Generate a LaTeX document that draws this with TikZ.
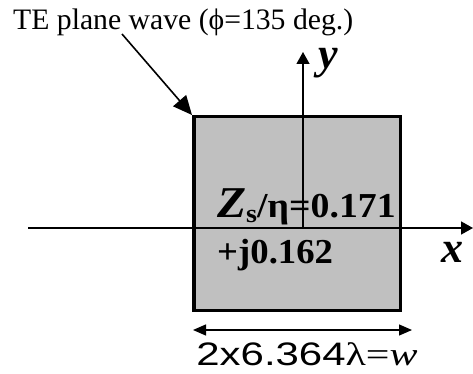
\documentclass[tikz,border=0pt]{standalone}
\usepackage{fontspec}
\setmainfont{Liberation Serif}
\setsansfont{Liberation Sans}
\usetikzlibrary{arrows.meta}

\definecolor{platefill}{RGB}{192,192,192}

\tikzset{
    axis/.style={line width=1.7pt, -{Triangle[length=12pt,width=13pt]}},
    wave/.style={line width=1.6pt, -{Triangle[length=19pt,width=17pt]}},
    dimline/.style={line width=1.2pt, {Triangle[length=13pt,width=11pt]}-{Triangle[length=13pt,width=11pt]}},
    plate/.style={draw, line width=3.5pt, fill=platefill, inner sep=0pt},
    lbl/.style={inner sep=0pt, anchor=base west}
}

\begin{document}
\begin{tikzpicture}[x=1pt, y=-1pt]
    \useasboundingbox (0,0) rectangle (473,374);

    \node[plate, minimum width=206.5pt, minimum height=193.5pt] (plate) at (297,213.5) {};

    \coordinate (xstart) at (28,228);
    \coordinate (xend) at (473,228);
    \coordinate (origin) at (303,228);
    \coordinate (ytip) at (303,52);
    \draw[axis] (xstart) -- (xend);
    \draw[axis, line width=1.3pt] (origin) -- (ytip);

    \node[font=\bfseries\itshape\fontsize{44}{44}\selectfont, inner sep=0pt] (xlab) at (452,252) {x};
    \node[font=\bfseries\itshape\fontsize{44}{44}\selectfont, inner sep=0pt] (ylab) at (328,63) {y};

    \node[lbl, font=\fontsize{29.7}{29.7}\selectfont] (wavetext) at (13,30)
        {TE plane wave (ϕ=135 deg.)};
    \coordinate (wavefoot) at (122,34);
    \draw[wave] (wavefoot) -- (plate.north west);

    \node[lbl, font=\bfseries\fontsize{35}{35}\selectfont] (zre) at (217,217)
        {\scalebox{1.08}[1]{\textit{\fontsize{44}{44}\selectfont Z}\raisebox{-5pt}{\fontsize{26}{26}\selectfont s}/η=0.171}};
    \node[lbl, font=\bfseries\fontsize{35}{35}\selectfont] (zim) at (217,263)
        {\scalebox{1.05}[1]{+j0.162}};

    \coordinate (dimleft) at (193,330);
    \coordinate (dimright) at (412,330);
    \draw[dimline] (dimleft) -- (dimright);
    \node[font=\fontsize{32.5}{32.5}\selectfont, inner sep=0pt, anchor=base] (width) at (307,365)
        {\scalebox{1.29}[1]{{\sffamily 2x6.364}λ=\textit{w}}};
\end{tikzpicture}
\end{document}
